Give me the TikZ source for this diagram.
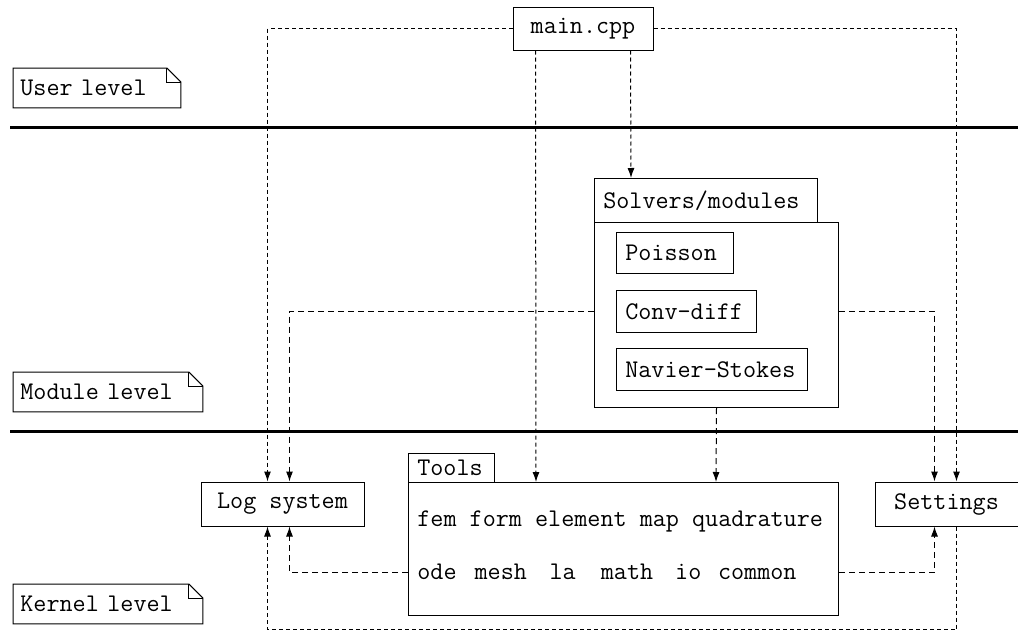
\documentclass[tikz,border=0pt]{standalone}
\usetikzlibrary{arrows.meta}
\begin{document}
\begin{tikzpicture}[x=0.5pt,y=-0.5pt,
  every node/.style={font=\ttfamily\fontsize{12.7}{14}\selectfont},
  box/.style={draw,line width=0.5pt,inner sep=0pt},
  lbox/.style={box,anchor=north west,align=left,inner xsep=4.4pt},
  txt/.style={inner sep=0pt,anchor=west},
  notebox/.style={inner sep=0pt,inner xsep=3.5pt,align=left,minimum height=19.5pt,anchor=north west},
  fine/.style={line width=0.5pt,dash pattern=on 2pt off 1.5pt},
  dsh/.style={line width=0.5pt,dash pattern=on 3pt off 2pt},
  arr/.style={-{Latex[length=5pt,width=3.5pt]}},
  sep/.style={line width=1.5pt}
]
\useasboundingbox (0,0) rectangle (1018,637);

% separators
\draw[sep] (10,127) -- (1018,127);
\draw[sep] (10,431) -- (1018,431);

% level notes
\newcommand{\notepath}[1]{%
  \draw[line width=0.5pt] (#1.south west) -- (#1.north west) -- ([xshift=-7pt]#1.north east)
    -- ([yshift=-7pt]#1.north east) -- (#1.south east) -- cycle;
  \draw[line width=0.5pt] ([xshift=-7pt]#1.north east) -- ([xshift=-7pt,yshift=-7pt]#1.north east)
    -- ([yshift=-7pt]#1.north east);}
\node[notebox,text width=76.5pt] (user) at (13,68) {User level};
\notepath{user}
\node[notebox,text width=87.5pt] (module) at (13,372) {Module level};
\notepath{module}
\node[notebox,text width=87.5pt] (kernel) at (13,584) {Kernel level};
\notepath{kernel}

% main
\node[box,minimum width=70pt,minimum height=21.5pt] (main) at (583,28.5) {main.cpp};

% solvers
\node[lbox,text width=102.7pt,minimum height=22pt] (soltab) at (594,178) {Solvers/modules};
\node[box,anchor=north west,minimum width=122pt,minimum height=92.5pt] (solbox) at (594,222) {};
\node[lbox,text width=49.7pt,minimum height=20.5pt] (poisson) at (616,232) {Poisson};
\node[lbox,text width=61.2pt,minimum height=21pt] (conv) at (616,290) {Conv-diff};
\node[lbox,text width=86.7pt,minimum height=21pt] (navier) at (616,348) {Navier-Stokes};

% kernel
\node[lbox,text width=34.2pt,minimum height=14.5pt] (tooltab) at (408,453) {Tools};
\node[box,anchor=north west,minimum width=215pt,minimum height=66.5pt] (tools) at (408,482) {};
\node[txt] (row1) at (417,521.5) {fem form element map quadrature};
\node[txt] (row2) at (417,571.5) {ode\hspace{9pt}mesh\hspace{11.3pt}la\hspace{12.6pt}math\hspace{11pt}io\hspace{8.3pt}common};
\node[box,minimum width=81.5pt,minimum height=22pt] (log) at (282.5,504) {Log system};
\node[box,minimum width=71.5pt,minimum height=22pt] (settings) at (946.5,504) {Settings};

% connectors from main.cpp
\draw[fine,arr] (main.west) -| ([xshift=33.5pt]log.north west);
\draw[fine,arr] (main.east) -| ([xshift=41pt]settings.north west);
\draw[fine,arr] ([xshift=11.5pt]main.south west) -- ([xshift=64pt]tools.north west);
\draw[fine,arr] ([xshift=59pt]main.south west) -- ([xshift=18.5pt]soltab.north west);

% connectors from solvers
\draw[dsh,arr] ([yshift=-44.5pt]solbox.north west) -| ([xshift=44.5pt]log.north west);
\draw[dsh,arr] ([yshift=-44.5pt]solbox.north east) -| ([xshift=30pt]settings.north west) ;
\draw[dsh,arr] (solbox.south) -- ([xshift=154pt]tools.north west);

% connectors from tools
\draw[dsh,arr] ([yshift=-45pt]tools.north west) -| ([xshift=44.5pt]log.south west);
\draw[dsh,arr] ([yshift=-45pt]tools.north east) -| ([xshift=30pt]settings.south west);

% settings loop
\draw[fine,arr] ([xshift=41pt]settings.south west) -- ++(0,103) -| ([xshift=33.5pt]log.south west);
\end{tikzpicture}
\end{document}
